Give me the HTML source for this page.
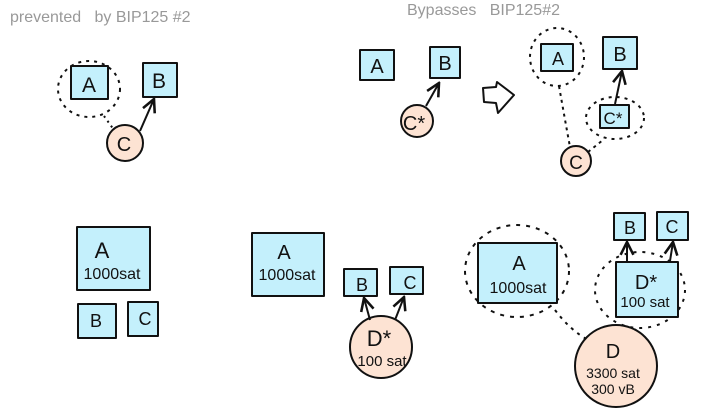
<!DOCTYPE html>
<html><head><meta charset="utf-8"><style>
html,body{margin:0;padding:0;background:#fff;width:717px;height:417px;overflow:hidden}
svg{display:block}
text{font-family:"Liberation Sans",sans-serif;fill:#111}
</style></head><body>
<svg width="717" height="417" viewBox="0 0 717 417" xmlns="http://www.w3.org/2000/svg">
<defs>
<marker id="ah" viewBox="0 0 10 10" refX="9" refY="5" markerWidth="8" markerHeight="8" orient="auto-start-reverse">
<path d="M1,1 L9,5 L1,9" fill="none" stroke="#111" stroke-width="1.6"/>
</marker>
</defs>
<g stroke="#111" stroke-width="2" stroke-linejoin="round">
<text x="10" y="22" font-size="16" stroke="none" style="fill:#999">prevented&#160;&#160; by BIP125 #2</text>
<text x="407" y="15" font-size="16" stroke="none" style="fill:#999">Bypasses&#160;&#160; BIP125#2</text>

<!-- top-left -->
<ellipse cx="89" cy="89" rx="31" ry="28" fill="none" stroke-dasharray="3,5"/>
<rect x="71" y="66" width="37" height="33" fill="#c4f0fc"/>
<rect x="143" y="63" width="34" height="34" fill="#c4f0fc"/>
<path d="M104,116 L114,130" fill="none" stroke-dasharray="2,4"/>
<circle cx="125" cy="143" r="18" fill="#fde3d3"/>
<line x1="140" y1="131" x2="154" y2="99" marker-end="url(#ah)"/>
<text x="89" y="92" font-size="21" stroke="none" text-anchor="middle">A</text>
<text x="159" y="88" font-size="21" stroke="none" text-anchor="middle">B</text>
<text x="124" y="151" font-size="20" stroke="none" text-anchor="middle">C</text>

<!-- top-middle -->
<rect x="360" y="50" width="34" height="30" fill="#c4f0fc"/>
<rect x="430" y="47" width="30" height="31" fill="#c4f0fc"/>
<circle cx="417" cy="121" r="16" fill="#fde3d3"/>
<line x1="426" y1="106" x2="439" y2="83" marker-end="url(#ah)"/>
<text x="377" y="73" font-size="20" stroke="none" text-anchor="middle">A</text>
<text x="445" y="70" font-size="20" stroke="none" text-anchor="middle">B</text>
<text x="414" y="130" font-size="20" stroke="none" text-anchor="middle">C*</text>
<path d="M483,88 L496,87 L497,82 L514,95 L498,113 L496,103 L484,102 Z" fill="none"/>

<!-- top-right -->
<ellipse cx="557" cy="57" rx="27" ry="29" fill="none" stroke-dasharray="3,5"/>
<rect x="541" y="44" width="32" height="27" fill="#c4f0fc"/>
<rect x="603" y="37" width="34" height="32" fill="#c4f0fc"/>
<ellipse cx="615" cy="118" rx="29" ry="21" fill="none" stroke-dasharray="3,5"/>
<rect x="600" y="105" width="29" height="23" fill="#c4f0fc"/>
<path d="M559,86 Q565,120 570,147" fill="none" stroke-dasharray="3,4"/>
<path d="M588,152 L603,140" fill="none" stroke-dasharray="3,4"/>
<circle cx="576" cy="161" r="15" fill="#fde3d3"/>
<line x1="615" y1="104" x2="622" y2="71" marker-end="url(#ah)"/>
<text x="558" y="65" font-size="18" stroke="none" text-anchor="middle">A</text>
<text x="620" y="61" font-size="20" stroke="none" text-anchor="middle">B</text>
<text x="613" y="124" font-size="17" stroke="none" text-anchor="middle">C*</text>
<text x="576" y="169" font-size="19" stroke="none" text-anchor="middle">C</text>

<!-- bottom-left -->
<rect x="77" y="227" width="73" height="63" fill="#c4f0fc"/>
<rect x="78" y="304" width="38" height="34" fill="#c4f0fc"/>
<rect x="128" y="302" width="30" height="34" fill="#c4f0fc"/>
<text x="102" y="258" font-size="22" stroke="none" text-anchor="middle">A</text>
<text x="112" y="279" font-size="16" stroke="none" text-anchor="middle">1000sat</text>
<text x="96" y="327" font-size="18" stroke="none" text-anchor="middle">B</text>
<text x="145" y="325" font-size="18" stroke="none" text-anchor="middle">C</text>

<!-- bottom-middle -->
<rect x="252" y="233" width="72" height="63" fill="#c4f0fc"/>
<rect x="344" y="269" width="33" height="27" fill="#c4f0fc"/>
<rect x="390" y="267" width="33" height="27" fill="#c4f0fc"/>
<circle cx="381" cy="347" r="31" fill="#fde3d3"/>
<line x1="370" y1="320" x2="364" y2="298" marker-end="url(#ah)"/>
<line x1="395" y1="320" x2="404" y2="297" marker-end="url(#ah)"/>
<text x="284" y="259" font-size="20" stroke="none" text-anchor="middle">A</text>
<text x="287" y="280" font-size="16" stroke="none" text-anchor="middle">1000sat</text>
<text x="362" y="291" font-size="18" stroke="none" text-anchor="middle">B</text>
<text x="410" y="289" font-size="18" stroke="none" text-anchor="middle">C</text>
<text x="379" y="346" font-size="22" stroke="none" text-anchor="middle">D*</text>
<text x="382" y="366" font-size="15" stroke="none" text-anchor="middle">100 sat</text>

<!-- bottom-right -->
<ellipse cx="517" cy="271" rx="52" ry="46" fill="none" stroke-dasharray="4,6"/>
<rect x="478" y="243" width="79" height="60" fill="#c4f0fc"/>
<rect x="614" y="213" width="31" height="27" fill="#c4f0fc"/>
<rect x="657" y="212" width="31" height="28" fill="#c4f0fc"/>
<ellipse cx="640" cy="290" rx="45" ry="38" fill="none" stroke-dasharray="3,6"/>
<rect x="616" y="262" width="62" height="55" fill="#c4f0fc"/>
<path d="M555,310 Q570,330 588,340" fill="none" stroke-dasharray="3,5"/>
<path d="M636,329 L632,335" fill="none" stroke-dasharray="2,3"/>
<circle cx="616" cy="366" r="41" fill="#fde3d3"/>
<line x1="627" y1="261" x2="627" y2="242" marker-end="url(#ah)"/>
<line x1="670" y1="261" x2="673" y2="242" marker-end="url(#ah)"/>
<text x="519" y="270" font-size="20" stroke="none" text-anchor="middle">A</text>
<text x="518" y="293" font-size="16" stroke="none" text-anchor="middle">1000sat</text>
<text x="630" y="234" font-size="18" stroke="none" text-anchor="middle">B</text>
<text x="672" y="233" font-size="18" stroke="none" text-anchor="middle">C</text>
<text x="646" y="289" font-size="20" stroke="none" text-anchor="middle">D*</text>
<text x="645" y="307" font-size="15" stroke="none" text-anchor="middle">100 sat</text>
<text x="613" y="358" font-size="20" stroke="none" text-anchor="middle">D</text>
<text x="613" y="378" font-size="14" stroke="none" text-anchor="middle">3300 sat</text>
<text x="613" y="394" font-size="14" stroke="none" text-anchor="middle">300 vB</text>
</g>
</svg>
</body></html>
